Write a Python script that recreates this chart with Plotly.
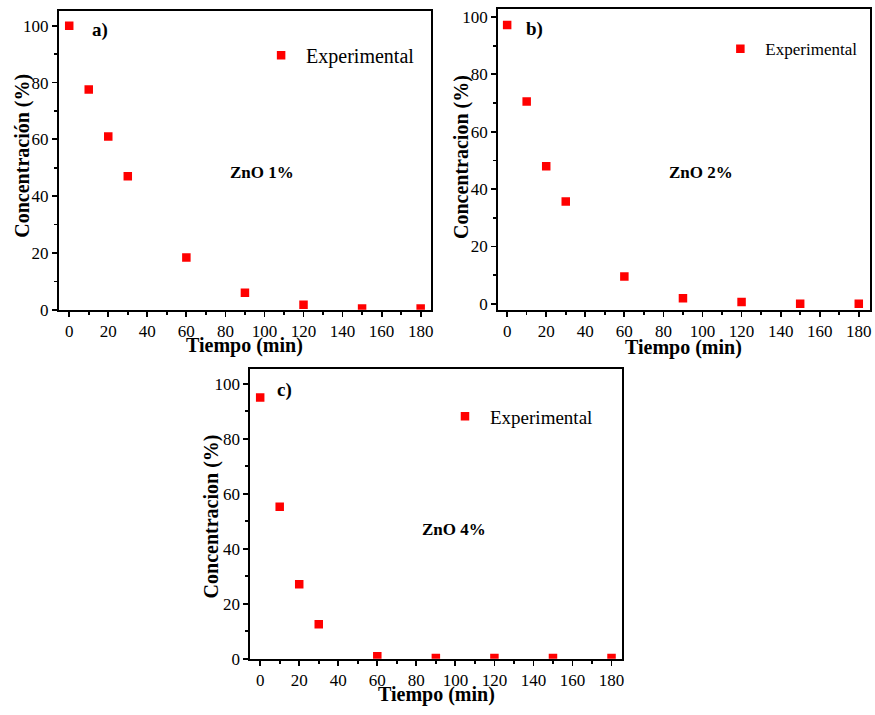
import plotly.graph_objects as go

W, H = 875, 715
K = 1.014  # vertical compensation for the capture squash observed

tiempo = [0, 10, 20, 30, 60, 90, 120, 150, 180]
conc_zno1 = [100, 77.6, 61, 47, 18.4, 6, 1.8, 0.5, 0.5]
conc_zno2 = [97.2, 70.5, 48, 35.7, 9.5, 1.9, 0.6, 0, 0]
conc_zno4 = [95, 55.3, 27.1, 12.5, 0.9, 0.3, 0.3, 0.3, 0.3]

x_ticks = [0, 20, 40, 60, 80, 100, 120, 140, 160, 180]
y_ticks = [0, 20, 40, 60, 80, 100]

FONT = "Liberation Serif"
RED = "#FF0000"
INK = "#000000"

# panel boxes in pixels: (left, right, top, bottom, bottom-compensation)
boxes = {
    "a": (59, 432, 10, 309.3, K),
    "b": (499.3, 872.3, 8.3, 309.3, K),
    "c": (251, 623.3, 369, 668, 1.0),
}
yranges = {"a": [0, 105.2], "b": [-2.1, 102.7], "c": [0, 105.2]}
xranges = {"a": [-5.3, 185.3], "b": [-4.6, 185.9], "c": [-5, 185.3]}


def py(y, k=K):
    return 1 - (y * k) / H


def dom(b):
    l, r, t, bt, kb = b
    return [l / W, r / W], [py(bt, kb), py(t)]


fig = go.Figure()

series = [("a", conc_zno1, "", "legend"),
          ("b", conc_zno2, "2", "legend2"),
          ("c", conc_zno4, "3", "legend3")]

for key, vals, sfx, lg in series:
    fig.add_trace(go.Scatter(
        x=tiempo, y=vals, mode="markers", name="Experimental",
        marker=dict(symbol="square", size=8.5, color=RED, line=dict(width=0)),
        xaxis="x" + sfx, yaxis="y" + sfx, legend=lg, showlegend=True,
        cliponaxis=True,
    ))

minor_common = dict(ticks="outside", ticklen=3, tickwidth=1.6, tickcolor=INK,
                    showgrid=False, dtick=10, tick0=0)
axis_common = dict(
    showline=True, linecolor=INK, linewidth=2, mirror=True,
    ticks="outside", ticklen=5, tickwidth=1.8, tickcolor=INK,
    showgrid=False, zeroline=False,
    tickfont=dict(family=FONT, size=17, color=INK),
    minor=minor_common,
)

layout = dict(
    width=W, height=H, margin=dict(l=0, r=0, t=0, b=0),
    paper_bgcolor="white", plot_bgcolor="white",
    font=dict(family=FONT, color=INK),
)

for key, vals, sfx, lg in series:
    xd, yd = dom(boxes[key])
    layout["xaxis" + sfx] = dict(axis_common, domain=xd, range=xranges[key],
                                 tickvals=x_ticks, anchor="y" + sfx)
    layout["yaxis" + sfx] = dict(axis_common, domain=yd, range=yranges[key],
                                 tickvals=y_ticks, anchor="x" + sfx)

# legends: marker centre (cx, cy) in pixels, font size
leg_pos = {"legend": (281.7, 54.3, 20), "legend2": (742, 48.3, 17), "legend3": (466, 416, 19)}
for name, (cx, cy, fs) in leg_pos.items():
    layout[name] = dict(
        x=(cx - 25) / W, y=py(cy), xanchor="left", yanchor="middle",
        bgcolor="rgba(0,0,0,0)", borderwidth=0, itemwidth=40,
        font=dict(family=FONT, size=fs, color=INK),
    )

fig.update_layout(**layout)

ann = []


def text(x, y, s, size, bold=False, angle=0, k=K):
    ann.append(dict(
        x=x / W, y=py(y, k), xref="paper", yref="paper", showarrow=False,
        text=("<b>%s</b>" % s) if bold else s, textangle=angle,
        font=dict(family=FONT, size=size, color=INK),
        xanchor="center", yanchor="middle",
    ))


# axis titles
text(245.5, 345, "Tiempo (min)", 20, True)
text(23, 155, "Concentración (%)", 20, True, -90)
text(685, 347, "Tiempo (min)", 20, True)
text(463.3, 156, "Concentracion (%)", 20, True, -90)
text(437.5, 704, "Tiempo (min)", 20, True, k=1.0)
text(211.7, 516, "Concentracion (%)", 20, True, -90)
# panel labels
text(100, 29, "a)", 19, True)
text(535.5, 28, "b)", 19, True)
text(285.5, 390, "c)", 19, True)
# sample labels
text(263, 172, "ZnO 1%", 17, True)
text(703, 172, "ZnO 2%", 17, True)
text(455, 529, "ZnO 4%", 17, True)

fig.update_layout(annotations=ann)
fig.write_html("out.html", config={"staticPlot": True})
